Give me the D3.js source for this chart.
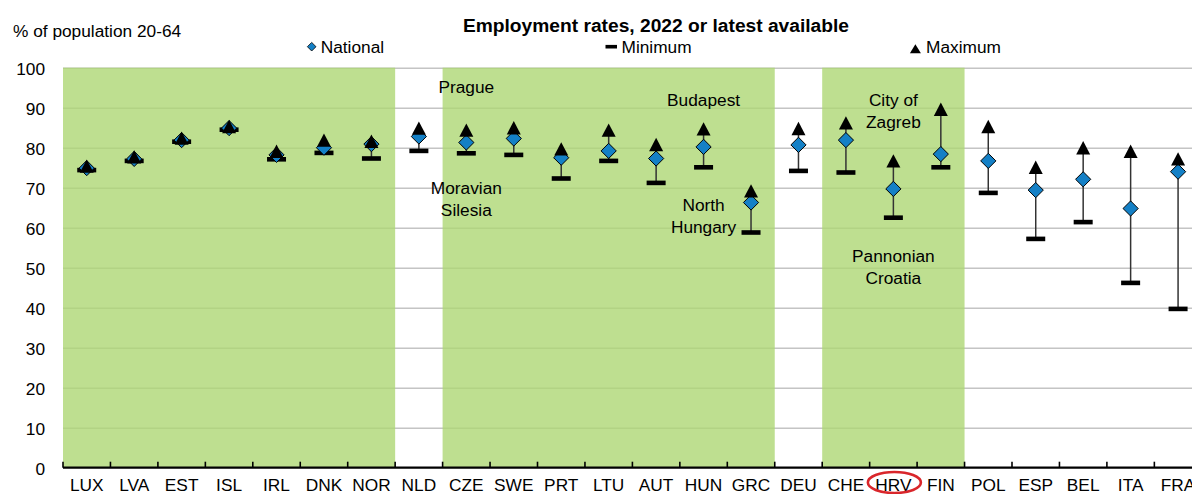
<!DOCTYPE html>
<html>
<head>
<meta charset="utf-8">
<script src="https://cdn.jsdelivr.net/npm/d3@7"></script>
<style>
  body { margin: 0; background: #fff; }
  svg { display: block; font-family: "Liberation Sans", Arial, sans-serif; }
  text { fill: #000; }
</style>
</head>
<body>
<svg id="chart" width="1192" height="494"></svg>
<script>
// Employment rates, 2022 or latest available (% of population 20-64)
const countries = ["LUX", "LVA", "EST", "ISL", "IRL", "DNK", "NOR", "NLD", "CZE", "SWE",
  "PRT", "LTU", "AUT", "HUN", "GRC", "DEU", "CHE", "HRV", "FIN", "POL", "ESP", "BEL",
  "ITA", "FRA"];
const national = [74.9, 77.2, 81.9, 84.9, 78.2, 80.0, 80.9, 82.8, 81.3, 82.3,
  77.5, 79.2, 77.3, 80.2, 66.3, 80.7, 81.9, 69.7, 78.4, 76.7, 69.4, 72.1, 64.8, 74.0];
const minimum = [74.4, 76.7, 81.5, 84.5, 77.1, 78.7, 77.3, 79.2, 78.6, 78.2,
  72.3, 76.7, 71.2, 75.1, 58.8, 74.2, 73.8, 62.5, 75.1, 68.7, 57.2, 61.4, 46.2, 39.7];
const maximum = [75.4, 77.7, 82.4, 85.3, 79.1, 81.9, 81.6, 84.9, 84.4, 85.0,
  79.7, 84.4, 80.8, 84.7, 69.2, 84.8, 86.2, 76.7, 89.6, 85.3, 75.1, 80.0, 79.1, 77.2];
const yTicks = [0, 10, 20, 30, 40, 50, 60, 70, 80, 90, 100];
// Shaded country groups (first and last country of each block)
const shadedGroups = [["LUX", "NOR"], ["CZE", "GRC"], ["CHE", "FIN"]];
// Region labels: country column, text lines, baseline of the first line in chart units
const regionLabels = [
  {country: "CZE", lines: ["Prague"], at: 93.6},
  {country: "CZE", lines: ["Moravian", "Silesia"], at: 68.4},
  {country: "HUN", lines: ["Budapest"], at: 90.4},
  {country: "HUN", lines: ["North", "Hungary"], at: 64.2},
  {country: "HRV", lines: ["City of", "Zagreb"], at: 90.4},
  {country: "HRV", lines: ["Pannonian", "Croatia"], at: 51.4},
];
const highlighted = "HRV";

const svg = d3.select("#chart");
const fontSize = 17.3;
const left = 63, bandW = 47.45;
const x = d3.scaleBand().domain(countries).range([left, left + countries.length * bandW]);
const y = d3.scaleLinear().domain([0, 100]).range([467.7, 67.7]);
const plotRight = left + countries.length * bandW;

svg.append("rect").attr("width", 1192).attr("height", 494).attr("fill", "#fff");

// Gridlines (under the translucent green blocks)
svg.append("g")
    .attr("transform", `translate(${left},0)`)
    .call(d3.axisRight(y).tickValues(yTicks.filter(d => d > 0))
        .tickSize(plotRight - left).tickFormat(""))
    .call(g => g.select(".domain").remove())
    .call(g => g.selectAll("line").attr("stroke", "#c4c4c4").attr("stroke-width", 1.4));

// Green shaded blocks
svg.append("g").selectAll("rect")
  .data(shadedGroups)
  .join("rect")
    .attr("x", d => x(d[0]))
    .attr("width", d => x(d[1]) + x.bandwidth() - x(d[0]))
    .attr("y", y(100))
    .attr("height", y(0) - y(100))
    .attr("fill", "rgb(174,215,116)")
    .attr("fill-opacity", 0.8);

// Y axis labels
svg.append("g")
    .attr("transform", `translate(${left},0)`)
    .call(d3.axisLeft(y).tickValues(yTicks).tickSize(0).tickPadding(18))
    .call(g => g.select(".domain").remove())
    .call(g => g.selectAll("text")
        .attr("font-size", fontSize).attr("font-family", null)
        .attr("fill", "#000").attr("dy", "0.38em"));

// X axis with labels centred in each band
svg.append("g")
    .attr("transform", `translate(0,${y(0)})`)
    .call(d3.axisBottom(x).tickSize(0).tickPadding(10.7))
    .call(g => g.select(".domain").remove())
    .call(g => g.selectAll("text")
        .attr("font-size", fontSize).attr("font-family", null).attr("fill", "#000"));

// Tick marks at band boundaries, pointing up
const boundaries = countries.map(c => x(c)).concat([plotRight]);
svg.append("g").selectAll("line")
  .data(boundaries)
  .join("line")
    .attr("x1", d => d).attr("x2", d => d)
    .attr("y1", y(0)).attr("y2", y(0) - 6)
    .attr("stroke", "#000").attr("stroke-width", 1.6);

svg.append("line")
    .attr("x1", left).attr("x2", plotRight)
    .attr("y1", y(0)).attr("y2", y(0))
    .attr("stroke", "#000").attr("stroke-width", 2.2);

// Whiskers from minimum to maximum
const cx = c => x(c) + x.bandwidth() / 2;
svg.append("g").selectAll("line")
  .data(countries)
  .join("line")
    .attr("x1", cx).attr("x2", cx)
    .attr("y1", (d, i) => y(minimum[i]))
    .attr("y2", (d, i) => y(maximum[i]))
    .attr("stroke", "#333").attr("stroke-width", 1.5);

const diamondPath = s => `M0,${-s}L${s},0L0,${s}L${-s},0Z`;
const trianglePath = (w, h) => `M0,${-h / 2}L${w / 2},${h / 2}L${-w / 2},${h / 2}Z`;

// Minimum bars
svg.append("g").selectAll("rect")
  .data(countries)
  .join("rect")
    .attr("x", d => cx(d) - 9.5)
    .attr("y", (d, i) => y(minimum[i]) - 2.3)
    .attr("width", 19).attr("height", 4.6)
    .attr("fill", "#000");

// National diamonds
svg.append("g").selectAll("path")
  .data(countries)
  .join("path")
    .attr("transform", (d, i) => `translate(${cx(d)},${y(national[i])})`)
    .attr("d", diamondPath(7.6))
    .attr("fill", "#1480c6").attr("stroke", "#000").attr("stroke-width", 1);

// Maximum triangles
svg.append("g").selectAll("path")
  .data(countries)
  .join("path")
    .attr("transform", (d, i) => `translate(${cx(d)},${y(maximum[i])})`)
    .attr("d", trianglePath(14, 13.4))
    .attr("fill", "#000");

// Region labels
regionLabels.forEach(lab => {
  const t = svg.append("text")
      .attr("text-anchor", "middle")
      .attr("font-size", fontSize)
      .attr("x", cx(lab.country))
      .attr("y", y(lab.at));
  t.selectAll("tspan")
    .data(lab.lines)
    .join("tspan")
      .attr("x", cx(lab.country))
      .attr("dy", (d, i) => i === 0 ? 0 : 21.6)
      .text(d => d);
});

// Highlight ring around the HRV label
svg.append("ellipse")
    .attr("cx", cx(highlighted) + 1)
    .attr("cy", 482.5)
    .attr("rx", 26.5).attr("ry", 10.5)
    .attr("fill", "none").attr("stroke", "#d9262b").attr("stroke-width", 2.6);

// Titles
svg.append("text")
    .attr("x", 656).attr("y", 32.3)
    .attr("text-anchor", "middle")
    .attr("font-size", 19.2).attr("font-weight", "bold")
    .text("Employment rates, 2022 or latest available");

svg.append("text")
    .attr("x", 13).attr("y", 37.3)
    .attr("font-size", fontSize)
    .text("% of population 20-64");

// Legend
const legend = svg.append("g").attr("font-size", fontSize);
legend.append("path")
    .attr("transform", "translate(311.7,46.7)")
    .attr("d", diamondPath(4.3))
    .attr("fill", "#1480c6").attr("stroke", "#000").attr("stroke-width", 0.8);
legend.append("text").attr("x", 320.7).attr("y", 53.3).text("National");
legend.append("rect")
    .attr("x", 605.5).attr("y", 44.9).attr("width", 11.5).attr("height", 3.6)
    .attr("fill", "#000");
legend.append("text").attr("x", 621.5).attr("y", 53.3).text("Minimum");
legend.append("path")
    .attr("transform", "translate(915.4,48.8)")
    .attr("d", trianglePath(11, 9))
    .attr("fill", "#000");
legend.append("text").attr("x", 926).attr("y", 53.3).text("Maximum");
</script>
</body>
</html>
